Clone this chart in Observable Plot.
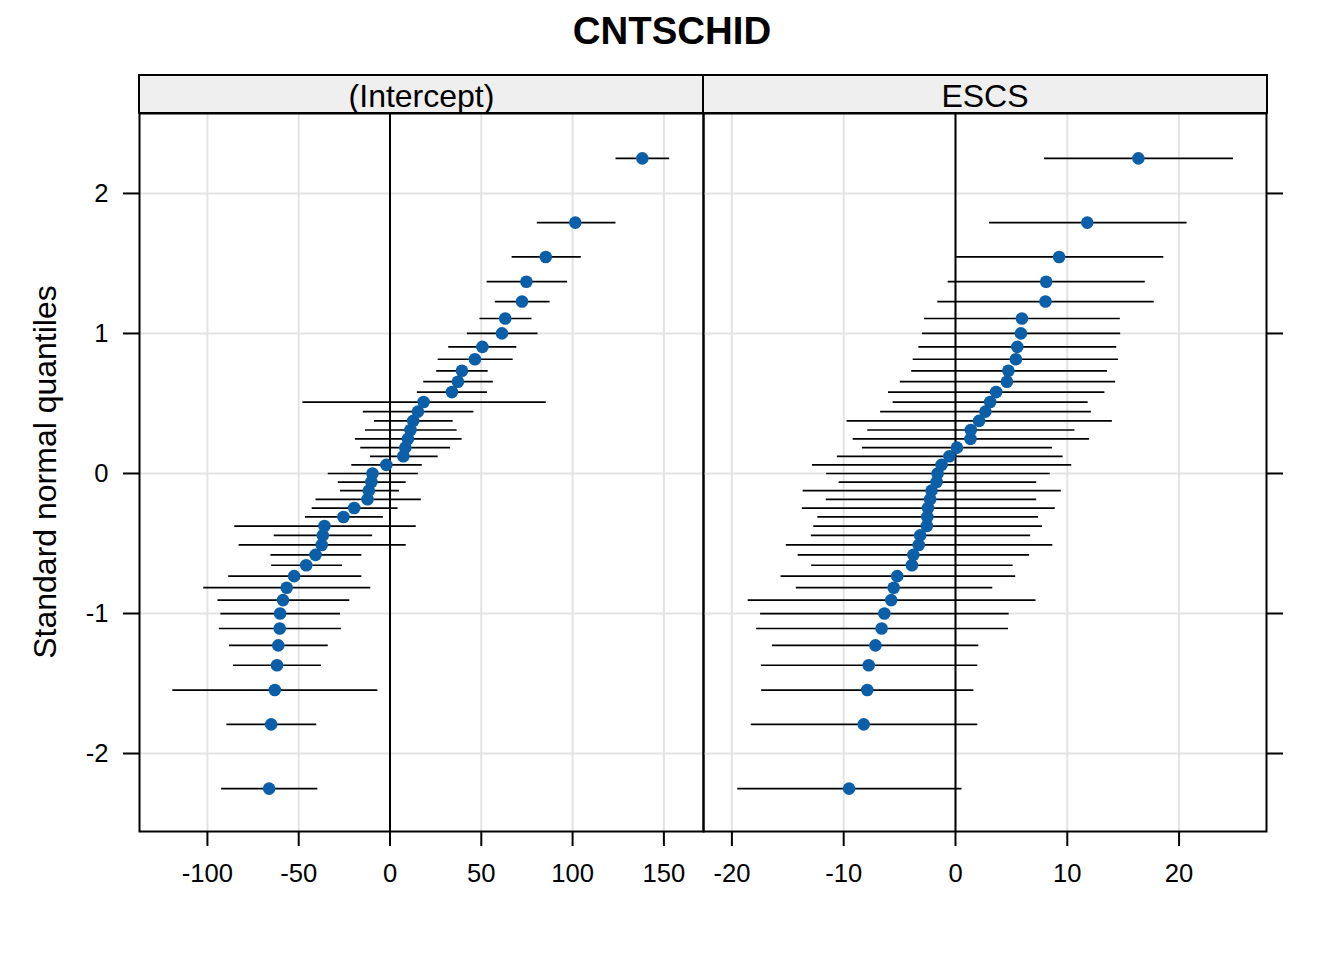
<!DOCTYPE html>
<html>
<head>
<meta charset="utf-8">
<script src="https://cdn.jsdelivr.net/npm/d3@7"></script>
<script src="https://cdn.jsdelivr.net/npm/@observablehq/plot@0.6"></script>
<style>
  html, body { margin: 0; padding: 0; background: #fff; }
  #wrap { position: relative; width: 1344px; height: 960px; background: #fff;
          font-family: "Liberation Sans", Arial, Helvetica, sans-serif; color: #000; overflow: hidden; }
  .layer { position: absolute; left: 0; top: 0; }
  .title { position: absolute; left: 0; top: 0; width: 1344px; height: 62px; line-height: 62px;
           text-align: center; font-weight: bold; font-size: 38.4px; }
  .strip { position: absolute; top: 74px; height: 40px; box-sizing: border-box; border: 2px solid #000;
           background: #efefef; text-align: center; font-size: 32px; line-height: 40px; overflow: hidden; }
  .ylab { position: absolute; left: 45px; top: 472px; white-space: nowrap; font-size: 32px;
          transform: translate(-50%, -50%) rotate(-90deg); }
</style>
</head>
<body>
<div id="wrap">
  <div class="title">CNTSCHID</div>
  <div class="strip" style="left:138px; width:567px;">(Intercept)</div>
  <div class="strip" style="left:702px; width:566px;">ESCS</div>
  <div class="ylab">Standard normal quantiles</div>
</div>
<script>
// Standard normal quantiles (y positions, ascending)
const quantiles = [-2.2506, -1.7917, -1.5466, -1.3698, -1.2278, -1.1070, -1.0005, -0.9042, -0.8157, -0.7332,
  -0.6554, -0.5814, -0.5103, -0.4419, -0.3755, -0.3106, -0.2470, -0.1844, -0.1226, -0.0612, 0,
  0.0612, 0.1226, 0.1844, 0.2470, 0.3106, 0.3755, 0.4419, 0.5103, 0.5814, 0.6554,
  0.7332, 0.8157, 0.9042, 1.0005, 1.1070, 1.2278, 1.3698, 1.5466, 1.7917, 2.2506];

// (Intercept) panel, sorted ascending
const interceptEst = [-66.2, -65.1, -63.1, -61.9, -61.2, -60.4, -60.2, -58.6, -56.6, -52.5,
  -45.9, -40.8, -37.4, -36.8, -35.9, -25.5, -19.6, -12.3, -11.6, -10.2, -9.6,
  -2.0, 7.3, 8.4, 9.8, 11.2, 12.7, 15.3, 18.4, 33.9, 37.2,
  39.4, 46.5, 50.6, 61.3, 63.1, 72.3, 74.7, 85.3, 101.5, 138.2];
const interceptLo = [-92.5, -89.6, -119.2, -86.0, -88.2, -93.7, -92.9, -94.5, -102.3, -88.6,
  -65.1, -65.5, -82.9, -63.7, -85.3, -46.6, -42.9, -40.8, -27.4, -28.6, -34.1,
  -21.2, -11.0, -16.3, -19.2, -13.7, -8.8, -14.9, -48.0, 14.7, 18.2,
  25.3, 26.1, 31.9, 42.1, 49.0, 57.4, 52.9, 66.6, 80.4, 123.5];
const interceptHi = [-39.8, -40.4, -6.9, -37.8, -34.1, -26.9, -27.4, -22.3, -10.8, -15.7,
  -26.3, -15.7, 8.6, -9.8, 14.1, -3.9, 4.1, 16.9, 4.9, 8.6, 15.3,
  17.4, 26.1, 32.9, 39.2, 36.5, 34.3, 45.7, 85.3, 53.1, 56.3,
  53.5, 67.2, 69.2, 80.8, 77.5, 87.4, 97.0, 104.5, 123.5, 152.9];

// ESCS panel, sorted ascending
const escsEst = [-9.52, -8.21, -7.89, -7.76, -7.16, -6.61, -6.36, -5.75, -5.53, -5.21,
  -3.90, -3.77, -3.29, -3.16, -2.56, -2.52, -2.46, -2.27, -2.14, -1.69, -1.60,
  -1.25, -0.54, 0.13, 1.34, 1.37, 2.11, 2.68, 3.10, 3.64, 4.60,
  4.73, 5.40, 5.53, 5.85, 5.94, 8.05, 8.11, 9.27, 11.79, 16.36];
const escsLo = [-19.52, -18.31, -17.38, -17.41, -16.42, -17.83, -17.48, -18.59, -14.28, -15.65,
  -12.91, -14.12, -15.18, -12.94, -12.72, -12.36, -13.74, -11.60, -13.67, -10.45, -11.57,
  -12.84, -10.61, -8.37, -9.20, -7.89, -9.74, -6.74, -5.62, -6.04, -4.98,
  -3.96, -3.83, -3.32, -3.00, -2.81, -1.63, -0.70, 0.06, 3.00, 7.92];
const escsHi = [0.54, 1.95, 1.60, 1.95, 2.04, 4.70, 4.76, 7.16, 3.29, 5.34,
  5.11, 6.58, 8.66, 6.68, 7.73, 7.38, 8.88, 7.22, 9.42, 7.22, 8.43,
  10.35, 9.58, 8.63, 11.95, 10.64, 13.99, 12.11, 11.82, 13.32, 14.28,
  13.55, 14.54, 14.38, 14.73, 14.70, 17.73, 16.93, 18.59, 20.67, 24.82];

const yTicks = [-2, -1, 0, 1, 2];
const interceptTicks = [-100, -50, 0, 50, 100, 150];
const escsTicks = [-20, -10, 0, 10, 20];

const rows = (est, lo, hi) => quantiles.map((q, i) => ({q, est: est[i], lo: lo[i], hi: hi[i]}));
const interceptRows = rows(interceptEst, interceptLo, interceptHi);
const escsRows = rows(escsEst, escsLo, escsHi);

const W = 1344, H = 960;
const font = '"Liberation Sans", Arial, Helvetica, sans-serif';
const grid = "#e3e3e3";
const dotColor = "#0b5ea8";
const fmt = d => String(d);

function panel(data, xDomain, xTicks, left, right, yAxisSide) {
  const marks = [
    Plot.gridX(xTicks, {stroke: grid, strokeOpacity: 1, strokeWidth: 2}),
    Plot.gridY(yTicks, {stroke: grid, strokeOpacity: 1, strokeWidth: 2}),
    Plot.ruleX([0], {stroke: "#000", strokeWidth: 2}),
    Plot.link(data, {x1: "lo", x2: "hi", y1: "q", y2: "q", stroke: "#000", strokeWidth: 1.7}),
    Plot.dot(data, {x: "est", y: "q", r: 6.3, fill: dotColor, stroke: null}),
    Plot.frame({stroke: "#000", strokeWidth: 2}),
    Plot.axisX({ticks: xTicks, tickSize: 15, tickPadding: 17, fontSize: 25.6, tickFormat: fmt,
                label: null, strokeWidth: 2})
  ];
  if (yAxisSide === "left") {
    marks.push(Plot.axisY({anchor: "left", ticks: yTicks, tickSize: 16, tickPadding: 15, fontSize: 25.6,
                           tickFormat: fmt, label: null, strokeWidth: 2}));
  } else {
    marks.push(Plot.axisY({anchor: "right", ticks: yTicks, tickSize: 16, tickPadding: 0, fontSize: 25.6,
                           tickFormat: () => "", label: null, strokeWidth: 2}));
  }
  const svg = Plot.plot({
    width: W, height: H,
    marginLeft: left, marginRight: W - right, marginTop: 113, marginBottom: H - 831,
    x: {domain: xDomain, axis: null},
    y: {domain: [-2.557, 2.571], axis: null},
    style: {background: "transparent", overflow: "visible", fontFamily: font, color: "#000"},
    marks
  });
  svg.classList.add("layer");
  svg.style.position = "absolute";
  svg.style.left = "0px";
  svg.style.top = "0px";
  svg.style.maxWidth = "none";
  return svg;
}

const wrap = document.getElementById("wrap");
const p1 = panel(interceptRows, [-137.2, 171.7], interceptTicks, 139, 703, "left");
const p2 = panel(escsRows, [-22.54, 27.82], escsTicks, 703, 1266, "right");
wrap.insertBefore(p2, wrap.firstChild);
wrap.insertBefore(p1, wrap.firstChild);
</script>
</body>
</html>
